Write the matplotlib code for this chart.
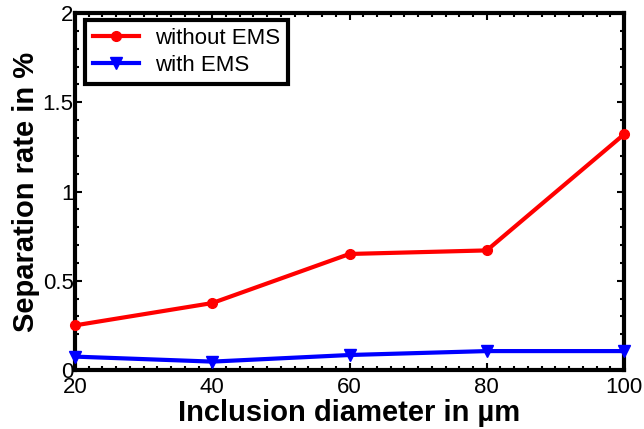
import matplotlib.pyplot as plt
from matplotlib.ticker import MultipleLocator

plt.rcParams['font.family'] = ['Liberation Sans', 'DejaVu Sans']

diameter = [20, 40, 60, 80, 100]
without_ems = [0.25, 0.375, 0.65, 0.67, 1.32]
with_ems = [0.075, 0.047, 0.084, 0.106, 0.106]

fig = plt.figure(figsize=(6.44, 4.29), dpi=100)
ax = fig.add_axes([75 / 644, 59 / 429, 549 / 644, 357 / 429])

ax.plot(diameter, without_ems, color='red', lw=3, marker='o', ms=7,
        label='without EMS', clip_on=False, zorder=3)
ax.plot(diameter, with_ems, color='blue', lw=3, marker='v', ms=9,
        label='with EMS', clip_on=False, zorder=3)

ax.set_xlim(20, 100)
ax.set_ylim(0, 2)
ax.xaxis.set_major_locator(MultipleLocator(20))
ax.xaxis.set_minor_locator(MultipleLocator(2))
ax.yaxis.set_minor_locator(MultipleLocator(0.1))
ax.set_yticks([0, 0.5, 1, 1.5, 2])
ax.set_yticklabels(['0', '0.5', '1', '1.5', '2'])

ax.tick_params(which='both', direction='in', top=True, right=True,
               labelsize=16, width=1.5)
ax.tick_params(axis='x', pad=5)
ax.tick_params(axis='y', pad=1)
ax.tick_params(which='major', length=5)
ax.tick_params(which='minor', length=3)
for s in ax.spines.values():
    s.set_linewidth(3)

ax.set_xlabel('Inclusion diameter in µm', fontsize=21, fontweight='bold',
              labelpad=1)
ax.set_ylabel('Separation rate in %', fontsize=21, fontweight='bold',
              labelpad=2)

leg = ax.legend(loc='upper left', fontsize=16, fancybox=False,
                edgecolor='black', framealpha=1, borderpad=0.35,
                labelspacing=0.27, handlelength=2.1, handletextpad=0.7,
                borderaxespad=0, bbox_to_anchor=(10 / 549, 1 - 7 / 357))
leg.get_frame().set_linewidth(3)

fig.savefig('out.png', dpi=100)
